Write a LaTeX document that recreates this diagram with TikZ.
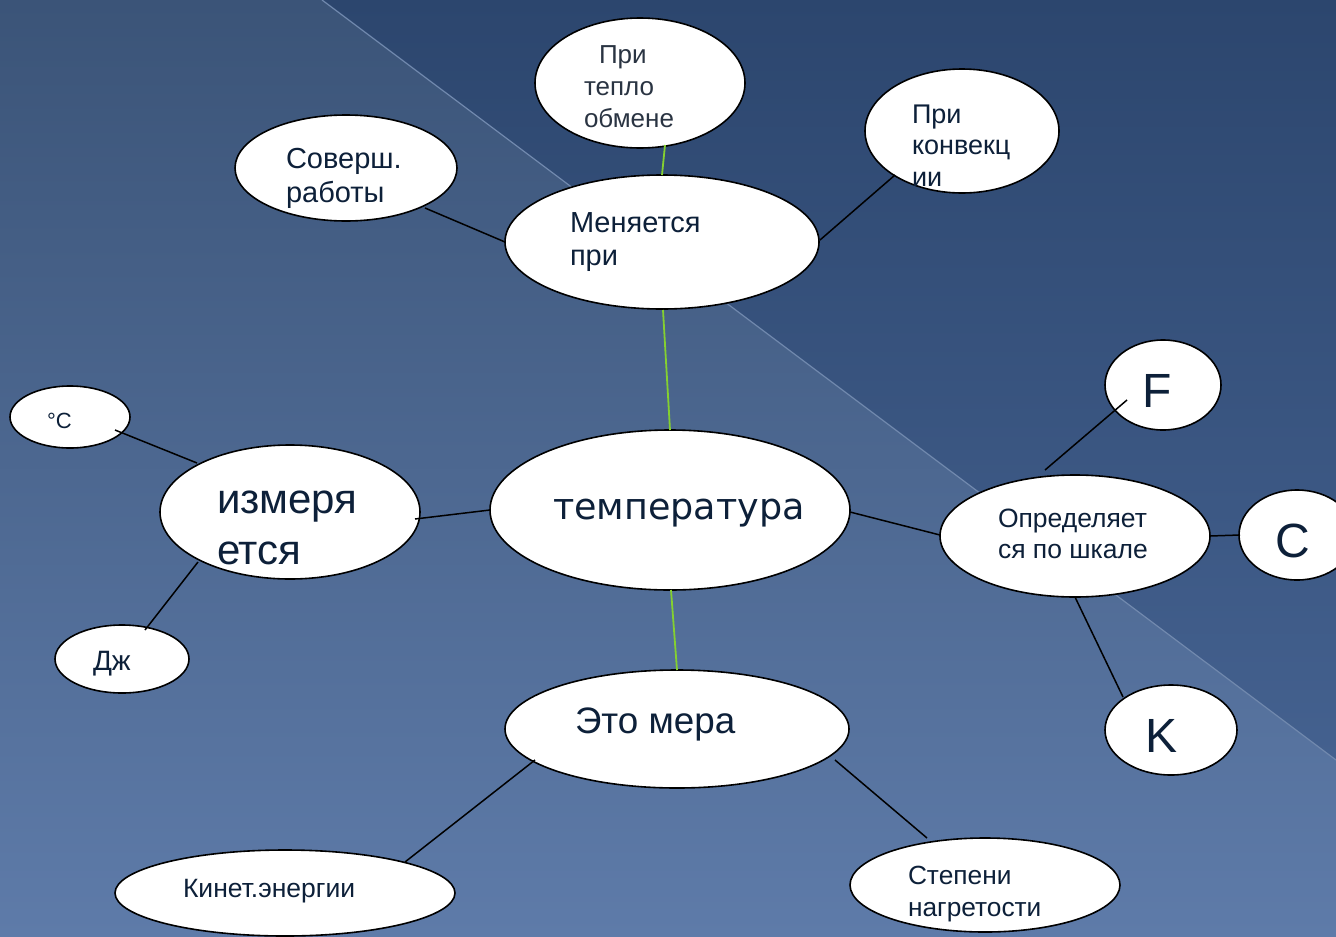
\documentclass[tikz,border=0pt]{standalone}
\usepackage{fontspec}
\setmainfont{Liberation Sans}
\newfontfamily\geofont{DejaVu Sans}
\usetikzlibrary{shapes.geometric}
\definecolor{txt}{HTML}{0D2039}
\definecolor{txtgray}{HTML}{2A3442}
\definecolor{bgtop}{HTML}{3B5478}
\definecolor{bgbot}{HTML}{5E7BA9}
\definecolor{tritop}{HTML}{2C466E}
\definecolor{tribot}{HTML}{44618F}
\definecolor{diag}{HTML}{7189AE}
\definecolor{grn}{HTML}{84D030}
\newcommand{\mylines}[3]{\fontsize{#1}{#2}\selectfont\begin{tabular}[t]{@{}l@{}}#3\end{tabular}}
\begin{document}
\begin{tikzpicture}[x=1pt,y=-1pt,
  bub/.style={ellipse,draw=black,line width=1.6pt,fill=white,inner sep=0pt,outer sep=0pt},
  lbl/.style={text=txt,inner sep=0pt,outer sep=0pt,anchor=base west},
  link/.style={black,line width=1.5pt},
  glink/.style={grn,line width=1.8pt}]
\useasboundingbox (0,0) rectangle (1336,937);
\clip (0,0) rectangle (1336,937);
% background
\shade[top color=bgtop,bottom color=bgbot] (0,0) rectangle (1336,937);
\shade[top color=tritop,bottom color=tribot] (322,0) -- (1336,0) -- (1336,760) -- cycle;
\draw[diag,line width=1.2pt] (322,0) -- (1336,760);
% ellipses
\node[bub,minimum width=210pt,minimum height=130pt] (teplo) at (640,83) {};
\node[bub,minimum width=222pt,minimum height=106pt] (sov) at (346,168) {};
\node[bub,minimum width=194pt,minimum height=124pt] (konv) at (962,131) {};
\node[bub,minimum width=314pt,minimum height=134pt] (men) at (662,242) {};
\node[bub,minimum width=116pt,minimum height=90pt] (F) at (1163,385) {};
\node[bub,minimum width=120pt,minimum height=62pt] (degC) at (70,417) {};
\node[bub,minimum width=260pt,minimum height=134pt] (izm) at (290,512) {};
\node[bub,minimum width=360pt,minimum height=160pt] (temp) at (670,510) {};
\node[bub,minimum width=270pt,minimum height=122pt] (opr) at (1075,536) {};
\node[bub,minimum width=116pt,minimum height=90pt] (C) at (1297,535) {};
\node[bub,minimum width=132pt,minimum height=90pt] (K) at (1171,730) {};
\node[bub,minimum width=134pt,minimum height=68pt] (dzh) at (122,659) {};
\node[bub,minimum width=344pt,minimum height=118pt] (mera) at (677,729) {};
\node[bub,minimum width=340pt,minimum height=86pt] (kin) at (285,893) {};
\node[bub,minimum width=270pt,minimum height=94pt] (stepen) at (985,885) {};
% connectors
\draw[glink] ([shift={(25,62)}]teplo.center) -- ([shift={(0,-67)}]men.center);
\draw[glink] ([shift={(1,68)}]men.center) -- ([shift={(0,-80)}]temp.center);
\draw[glink] ([shift={(1,80)}]temp.center) -- ([shift={(0,-59)}]mera.center);
\draw[link] ([shift={(79,40)}]sov.center) -- ([shift={(-157,0)}]men.center);
\draw[link] ([shift={(158,-2)}]men.center) -- ([shift={(-67,44)}]konv.center);
\draw[link] ([shift={(125,7)}]izm.center) -- ([shift={(-180,0)}]temp.center);
\draw[link] ([shift={(45,13)}]degC.center) -- ([shift={(-93,-49)}]izm.center);
\draw[link] ([shift={(23,-29)}]dzh.center) -- ([shift={(-92,50)}]izm.center);
\draw[link] ([shift={(180,2)}]temp.center) -- ([shift={(-135,-1)}]opr.center);
\draw[link] ([shift={(-36,15)}]F.center) -- ([shift={(-30,-66)}]opr.center);
\draw[link] ([shift={(-57,0)}]C.center) -- ([shift={(135,0)}]opr.center);
\draw[link] ([shift={(-48,-33)}]K.center) -- ([shift={(0,61)}]opr.center);
\draw[link] ([shift={(-142,31)}]mera.center) -- ([shift={(120,-31)}]kin.center);
\draw[link] ([shift={(158,31)}]mera.center) -- ([shift={(-58,-47)}]stepen.center);
% texts
\node[lbl,text=txtgray] (tTeplo) at (584,63) {\mylines{26}{32}{\hspace*{15pt}При\\тепло\\обмене}};
\node[lbl] (tSov) at (286,168) {\mylines{29}{34}{Соверш.\\работы}};
\node[lbl] (tKonv) at (912,123) {\mylines{27}{31.5}{При\\конвекц\\ии}};
\node[lbl] (tMen) at (570,232) {\mylines{29}{33}{Меняется\\при}};
\node[lbl] (tTemp) at (553,519) {\geofont\fontsize{36.5}{40}\selectfont температура};
\node[lbl] (tIzm) at (217,513) {\mylines{42}{51}{измеря\\ется}};
\node[lbl] (tOpr) at (998,527) {\mylines{26.5}{31}{Определяет\\ся по шкале}};
\node[lbl] (tF) at (1142,407) {\fontsize{48}{50}\selectfont F};
\node[lbl] (tC) at (1275,557) {\fontsize{48}{50}\selectfont C};
\node[lbl] (tK) at (1145,752) {\fontsize{48}{50}\selectfont K};
\node[lbl] (tDeg) at (47,428) {\fontsize{22}{24}\selectfont °C};
\node[lbl] (tDzh) at (93,670) {\fontsize{28}{30}\selectfont Дж};
\node[lbl] (tMera) at (575,733) {\fontsize{36.8}{40}\selectfont Это мера};
\node[lbl] (tKin) at (183,897) {\fontsize{26.5}{28}\selectfont Кинет.энергии};
\node[lbl] (tStep) at (908,884) {\mylines{26.3}{32}{Степени\\нагретости}};
\end{tikzpicture}
\end{document}
